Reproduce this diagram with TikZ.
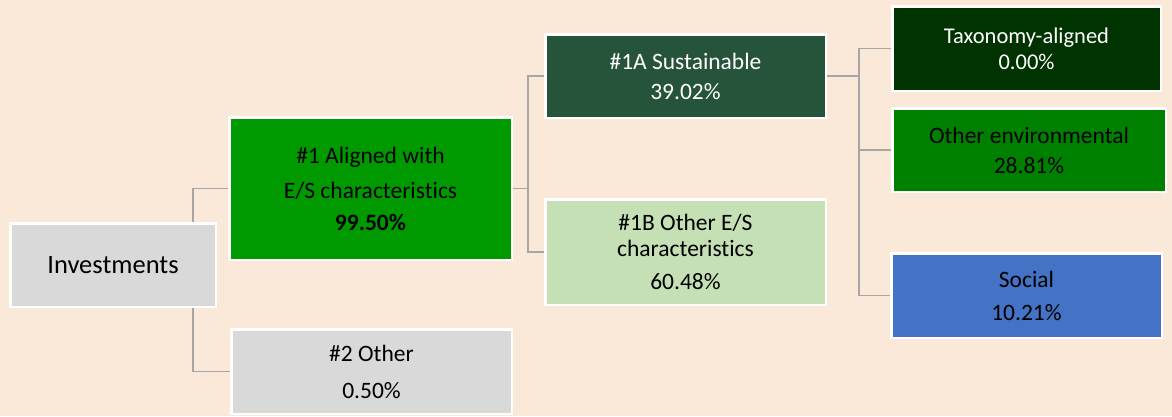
\documentclass[tikz,border=0pt]{standalone}
\usepackage{fontspec}
\setmainfont{Carlito}[Ligatures=NoCommon]
\definecolor{peach}{HTML}{FAE9D8}
\definecolor{lgray}{HTML}{D9D9D9}
\definecolor{esgreen}{HTML}{009900}
\definecolor{susgreen}{HTML}{25543A}
\definecolor{palegreen}{HTML}{C5E0B4}
\definecolor{taxgreen}{HTML}{003300}
\definecolor{envgreen}{HTML}{008000}
\definecolor{socblue}{HTML}{4472C4}
\definecolor{linkgray}{HTML}{A6A6A6}
\begin{document}
\begin{tikzpicture}[x=1pt,y=-1pt,
    box/.style={rectangle,draw=white,line width=2.5pt,inner sep=0pt,align=center,
      font=\fontsize{23.5}{26}\selectfont},
    link/.style={draw=linkgray,line width=1.5pt}]
    \fill[peach] (0,0) rectangle (1172,416);
    \useasboundingbox (0,0) rectangle (1172,416);
    \node (inv) at (113,265) [box,fill=lgray,minimum width=205.5pt,minimum height=83.5pt,
      font=\fontsize{26.5}{30}\selectfont] {Investments};
    \node (al) at (370.5,188.5) [box,fill=esgreen,minimum width=282.5pt,minimum height=142.5pt]
      {\#1 Aligned with\\[9pt]E/S characteristics\\[6pt]\textbf{99.50\%}};
    \node (ot) at (371.5,371.5) [box,fill=lgray,minimum width=280.5pt,minimum height=84.5pt]
      {\#2 Other\\[11pt]0.50\%};
    \node (sa) at (685.5,76) [box,fill=susgreen,text=white,minimum width=280.5pt,minimum height=83.5pt]
      {\#1A Sustainable\\[4pt]39.02\%};
    \node (sb) at (685.5,252) [box,fill=palegreen,minimum width=280.5pt,minimum height=105.5pt]
      {\#1B Other E/S\\characteristics\\[7pt]60.48\%};
    \node (tx) at (1026.5,48.5) [box,fill=taxgreen,text=white,minimum width=268.5pt,minimum height=84.5pt,
      font=\fontsize{22.5}{26}\selectfont] {Taxonomy-aligned\\0.00\%};
    \node (ev) at (1029,150) [box,fill=envgreen,minimum width=273.5pt,minimum height=83.5pt]
      {Other environmental\\[4pt]28.81\%};
    \node (so) at (1026.5,295.5) [box,fill=socblue,minimum width=270.5pt,minimum height=84.5pt]
      {Social\\[7pt]10.21\%};
    \coordinate (j1) at (193,0);
    \coordinate (j2) at (528,0);
    \coordinate (j3) at (859,0);
    \draw[link] (inv.north -| j1) |- (al.west);
    \draw[link] (inv.south -| j1) |- (ot.west);
    \draw[link] (al.east) -- (al.east -| j2);
    \draw[link] (sa.west) -- (sa.west -| j2) |- (sb.west);
    \draw[link] (sa.east) -- (sa.east -| j3);
    \draw[link] (tx.west) -- (tx.west -| j3) |- (so.west);
    \draw[link] (ev.west) -- (ev.west -| j3);
  \end{tikzpicture}
\end{document}
